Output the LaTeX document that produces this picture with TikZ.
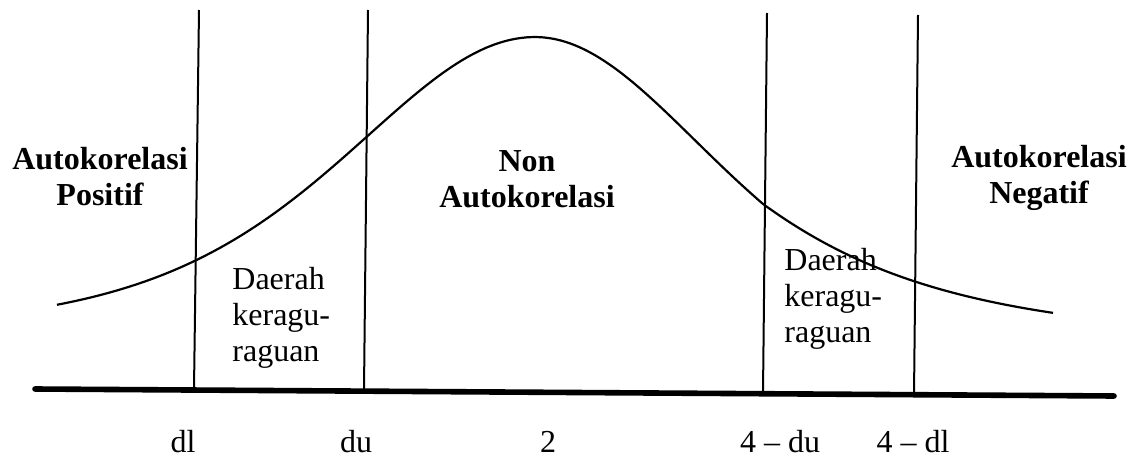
\documentclass[tikz,border=0pt]{standalone}
\usepackage{fontspec}
\setmainfont{Liberation Serif}
\usepackage{tikz}
\usetikzlibrary{positioning}

\begin{document}
\begin{tikzpicture}[
  x=0.5pt, y=-0.5pt,
  every node/.style={font=\fontsize{16}{18}\selectfont, inner sep=0pt},
  zone/.style={align=center, font=\fontsize{16}{18}\selectfont\bfseries},
  doubt/.style={align=left, anchor=west},
  tick/.style={anchor=base},
  bound/.style={line width=1pt},
  axis/.style={line width=2.8pt, line cap=round}
]
\useasboundingbox (0,0) rectangle (1146,460);
% batas-batas daerah
\coordinate (dlt) at (199,10);  \coordinate (dlb) at (194,389);
\coordinate (dut) at (368,10);  \coordinate (dub) at (364,390);
\coordinate (udt) at (767,13);  \coordinate (udb) at (763,393);
\coordinate (ult) at (918,15);  \coordinate (ulb) at (914,395);
\coordinate (ax0) at (35,389);  \coordinate (ax1) at (1114,396);
\draw[axis] (ax0) -- (ax1);
\draw[bound] (dlt) -- (dlb);
\draw[bound] (dut) -- (dub);
\draw[bound] (udt) -- (udb);
\draw[bound] (ult) -- (ulb);
% kurva
\draw[line width=1.1pt]
  plot[domain=57:535, samples=60, smooth] (\x, {330-293/(cosh((\x-535)/252))^2})
  -- plot[domain=535:1053, samples=60, smooth]
     (\x, {345-308/(cosh((\x-535)/(242+0.16*max(\x-763,0))))^2});
% label daerah
\node[zone] (pos) at (100,177) {Autokorelasi\\Positif};
\node[zone] (non) at (527,179) {Non\\Autokorelasi};
\node[zone] (neg) at (1039,178) {Autokorelasi\\Negatif};
\node[doubt] (rag1) at (232,318) {Daerah\\keragu-\\raguan};
\node[doubt] (rag2) at (784,299) {Daerah\\keragu-\\raguan};
% nilai pada sumbu
\node[tick] (dl) at (183,452) {dl};
\node[tick] (du) at (356,452) {du};
\node[tick] (two) at (548,452) {2};
\node[tick] (fdu) at (780,452) {4 -- du};
\node[tick] (fdl) at (913,452) {4 -- dl};
\end{tikzpicture}
\end{document}
